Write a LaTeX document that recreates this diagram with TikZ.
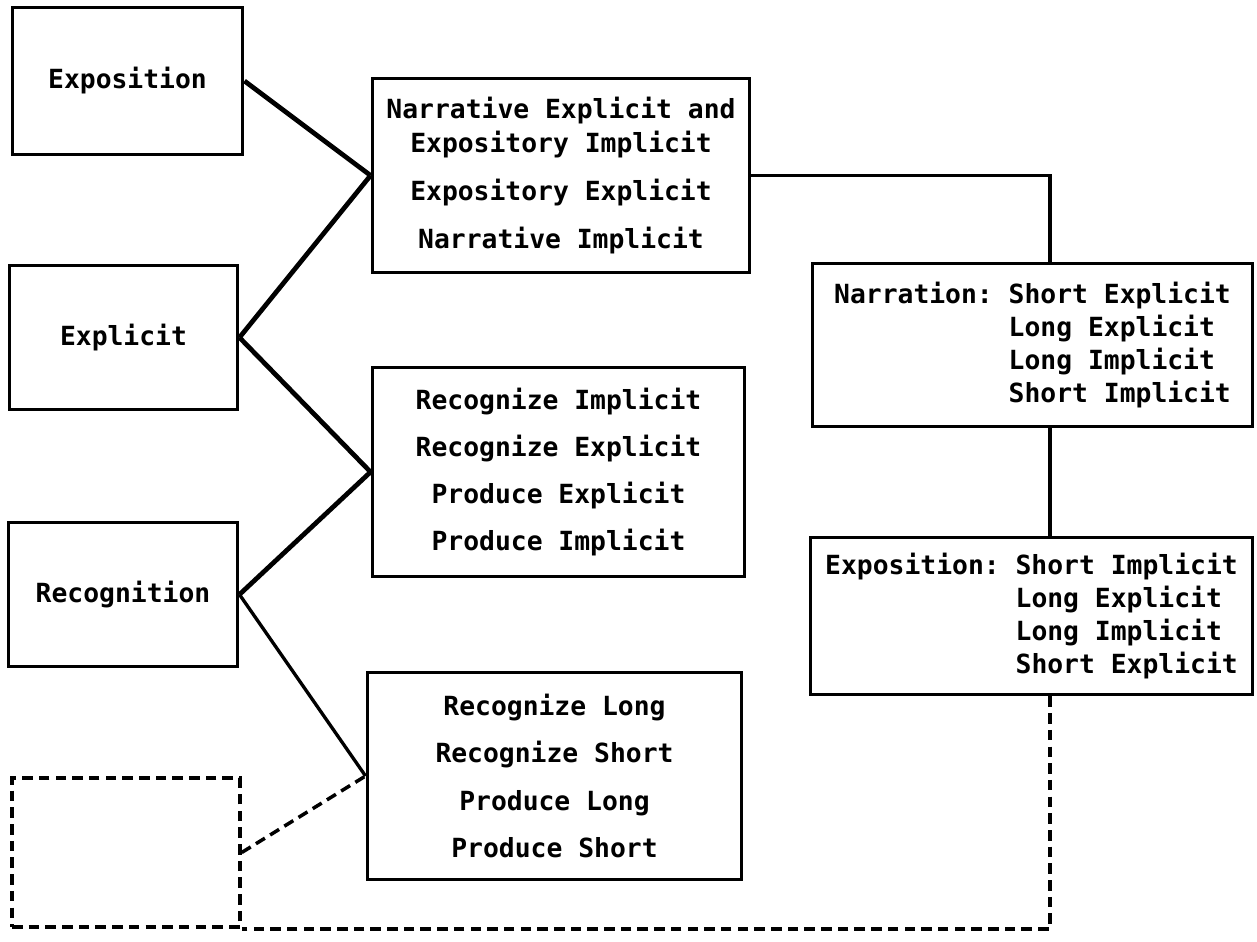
\documentclass[tikz,border=0pt]{standalone}
\usepackage{fontspec}
\setmonofont{DejaVu Sans Mono}
\usepackage{tikz}
\usetikzlibrary{positioning}

\tikzset{
	box/.style={draw, line width=1.7pt, rectangle, inner sep=0pt, align=center,
		font=\ttfamily\bfseries\fontsize{15}{18.7}\selectfont},
	dbox/.style={box, dash pattern=on 6pt off 3.5pt, line width=2pt},
	link/.style={line width=2.7pt},
	tie/.style={line width=1.9pt},
	dlink/.style={line width=2pt, dash pattern=on 6pt off 3.5pt}
}

\begin{document}
\begin{tikzpicture}[x=0.02cm, y=-0.02cm]
		\useasboundingbox (0,0) rectangle (1257,942);
		
		% left column
		\node[box, minimum width=4.62cm, minimum height=2.96cm] (expo) at (127.5,81) {Exposition};
		\node[box, minimum width=4.58cm, minimum height=2.9cm] (expl) at (123.5,337.5) {Explicit};
		\node[box, minimum width=4.6cm, minimum height=2.9cm] (recog) at (123,594.5) {Recognition};
		\node[dbox, minimum width=4.56cm, minimum height=2.98cm] (blank) at (126,852.5) {};
		
		% middle column
		\node[box, minimum width=7.56cm, minimum height=3.9cm] (mix) at (561,175.5)
			{Narrative Explicit and\\[1pt] Expository Implicit\\[8.5pt] Expository Explicit\\[8.5pt] Narrative Implicit};
		\node[box, minimum width=7.46cm, minimum height=4.2cm] (recimp) at (558.5,472)
			{Recognize Implicit\\[8.2pt] Recognize Explicit\\[8.2pt] Produce Explicit\\[8.2pt] Produce Implicit};
		\node[box, minimum width=7.5cm, minimum height=4.16cm] (reclong) at (554.5,776)
			{Recognize Long\\[8.2pt] Recognize Short\\[8.2pt] Produce Long\\[8.2pt] Produce Short};
		
		% right column
		\node[box, align=left, minimum width=8.82cm, minimum height=3.28cm] (narr) at (1032.5,345)
			{Narration: Short Explicit\\ \phantom{Narration: }Long Explicit\\ \phantom{Narration: }Long Implicit\\ \phantom{Narration: }Short Implicit};
		\node[box, align=left, minimum width=8.86cm, minimum height=3.16cm] (expn) at (1031.5,616)
			{Exposition: Short Implicit\\ \phantom{Exposition: }Long Explicit\\ \phantom{Exposition: }Long Implicit\\ \phantom{Exposition: }Short Explicit};
		
		\coordinate (jn) at (1050,0);
		
		\draw[link] (expo.east) -- (mix.west);
		\draw[link] (expl.east) -- (mix.west);
		\draw[link] (expl.east) -- (recimp.west);
		\draw[link] (recog.east) -- (recimp.west);
		\draw[tie] (recog.east) -- (reclong.west);
		\draw[dlink] (blank.east) -- (reclong.west);
		
		\draw[tie] (mix.east) -| (jn |- narr.north);
		\draw[tie] (jn |- narr.south) -- (jn |- expn.north);
		\draw[dlink] (jn |- expn.south) |- (blank.south east);
		
	\end{tikzpicture}
\end{document}
